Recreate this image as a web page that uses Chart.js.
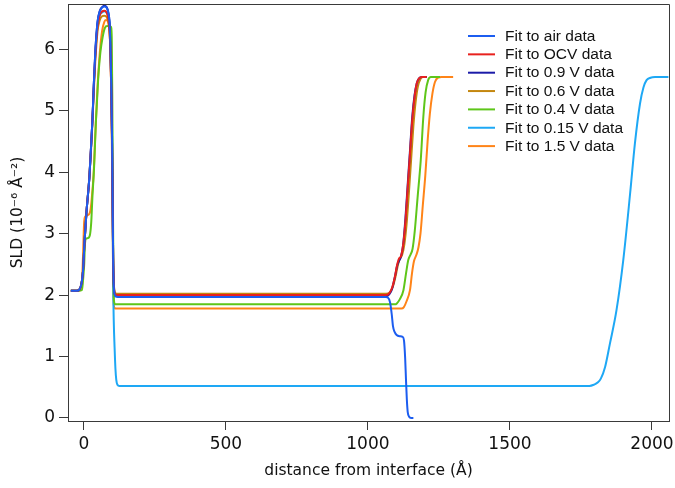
<!DOCTYPE html>
<html><head><meta charset="utf-8">
<script src="https://cdn.jsdelivr.net/npm/chart.js@4.4.1/dist/chart.umd.min.js"></script>
<style>html,body{margin:0;padding:0;background:#fff}#wrap{width:675px;height:488px}</style>
</head><body><div id="wrap"><canvas id="c" width="675" height="488"></canvas></div>
<script>
// ---- tick labels ----
const xTicks = [0, 500, 1000, 1500, 2000];
const yTicks = [0, 1, 2, 3, 4, 5, 6];

// ---- series (distance in Å, SLD in 1e-6 Å^-2) ----
const airX = [-46,-25,-16,-8,-3,2,9,19,25,30,35,40,48,56,64,72,80,86,90,93,96,99,101,103,106,111,120,1062,1070,1078,1084,1088,1094,1101,1112,1122,1127,1131,1134,1137,1140,1145,1152,1160];
const airY = [2.07,2.07,2.09,2.2,2.4,2.85,3.35,3.9,4.4,4.85,5.45,5.95,6.45,6.62,6.68,6.7,6.68,6.6,6.45,6.1,5.5,4.6,3.6,2.6,2.08,1.98,1.97,1.97,1.96,1.88,1.68,1.5,1.4,1.35,1.33,1.32,1.26,0.98,0.62,0.3,0.1,0.02,0.0,0.0];

const ocvX = [-46,-25,-16,-8,-3,2,9,19,25,30,35,40,48,56,64,72,80,86,90,93,96,99,101,103,106,111,120,1062,1075,1085,1095,1103,1110,1116,1124,1132,1140,1148,1156,1164,1172,1180,1190,1207];
const ocvY = [2.07,2.07,2.09,2.2,2.4,2.85,3.35,3.9,4.4,4.85,5.4,5.9,6.38,6.56,6.62,6.63,6.6,6.5,6.35,6.0,5.4,4.5,3.5,2.6,2.12,2.01,2.0,2.0,2.03,2.12,2.3,2.5,2.6,2.63,2.82,3.2,3.75,4.3,4.85,5.22,5.45,5.53,5.55,5.55];

const v09X = [-46,-25,-16,-8,-3,2,9,19,25,30,35,40,48,56,64,72,80,86,90,93,96,99,101,103,106,111,120,1062,1075,1085,1095,1103,1110,1116,1124,1132,1140,1148,1156,1164,1172,1180,1190,1207];
const v09Y = [2.07,2.07,2.09,2.2,2.4,2.85,3.35,3.9,4.4,4.85,5.45,5.95,6.45,6.63,6.69,6.71,6.69,6.6,6.45,6.1,5.5,4.6,3.6,2.6,2.1,1.99,1.98,1.98,2.01,2.1,2.3,2.48,2.56,2.62,2.82,3.25,3.8,4.35,4.9,5.25,5.45,5.53,5.55,5.55];

const v06X = [-46,-25,-16,-8,-3,2,9,19,25,30,35,40,48,56,64,72,80,86,90,93,96,99,101,103,106,111,120,1064,1078,1088,1098,1106,1113,1120,1128,1136,1144,1152,1160,1168,1176,1185,1195,1208];
const v06Y = [2.07,2.07,2.09,2.2,2.4,2.85,3.35,3.9,4.35,4.8,5.35,5.8,6.3,6.48,6.54,6.55,6.53,6.45,6.3,6.0,5.4,4.5,3.5,2.6,2.14,2.03,2.02,2.02,2.05,2.14,2.32,2.5,2.6,2.65,2.82,3.15,3.65,4.2,4.75,5.15,5.4,5.52,5.55,5.55];

const v04X = [-46,-20,-7,-2,1,4,8,16,22,26,30,36,42,50,58,66,74,82,95,98,100,102,104,106,110,1095,1101,1112,1125,1134,1142,1150,1157,1165,1175,1186,1195,1203,1212,1222,1254];
const v04Y = [2.07,2.07,2.08,2.3,2.5,2.85,2.92,2.93,3.0,3.2,3.6,4.1,4.8,5.5,5.95,6.2,6.35,6.38,6.37,6.2,5.2,3.6,2.3,1.9,1.85,1.85,1.86,1.93,2.08,2.35,2.57,2.66,2.75,3.05,3.6,4.2,4.9,5.3,5.5,5.55,5.55];

const v015X = [-46,-25,-16,-8,-3,2,9,19,25,30,35,40,48,56,64,72,80,86,90,94,97,99,101,103,105,108,111,114,118,125,1780,1795,1810,1820,1835,1852,1875,1899,1923,1940,1958,1970,1981,1995,2011,2058];
const v015Y = [2.07,2.07,2.09,2.2,2.4,2.85,3.35,3.9,4.4,4.85,5.4,5.9,6.4,6.56,6.6,6.62,6.6,6.55,6.45,6.2,5.6,4.8,3.6,2.2,1.6,1.15,0.8,0.62,0.54,0.52,0.52,0.54,0.58,0.64,0.83,1.21,1.75,2.57,3.65,4.47,5.12,5.38,5.5,5.54,5.55,5.55];

const v15X = [-46,-20,-10,-5,-2,1,5,12,20,25,29,34,40,48,56,64,72,78,85,90,94,97,99,101,103,105,108,113,1118,1126,1136,1148,1155,1162,1171,1178,1185,1193,1202,1210,1218,1227,1236,1247,1259,1300];
const v15Y = [2.07,2.07,2.1,2.4,2.8,3.2,3.28,3.3,3.33,3.45,3.65,3.95,4.6,5.4,5.95,6.3,6.45,6.48,6.45,6.3,5.9,5.1,4.2,3.2,2.3,1.85,1.79,1.78,1.78,1.8,1.9,2.08,2.35,2.55,2.66,2.78,3.0,3.45,3.95,4.5,4.95,5.28,5.47,5.54,5.55,5.55];

const seriesNames = ['Fit to air data','Fit to OCV data','Fit to 0.9 V data','Fit to 0.6 V data','Fit to 0.4 V data','Fit to 0.15 V data','Fit to 1.5 V data'];
const seriesColors = ['#1c5df0','#e8211e','#1b1ba8','#c4870f','#5ec61a','#1ea8f5','#ff8418'];
const seriesX = [airX, ocvX, v09X, v06X, v04X, v015X, v15X];
const seriesY = [airY, ocvY, v09Y, v06Y, v04Y, v015Y, v15Y];

const datasets = seriesNames.map((name, i) => ({
  label: name,
  data: seriesX[i].map((x, j) => ({x: x, y: seriesY[i][j]})),
  borderColor: seriesColors[i],
  backgroundColor: seriesColors[i],
  borderWidth: 2,
  pointRadius: 0,
  fill: false,
  cubicInterpolationMode: 'monotone'
}));

const axisColor = '#3a3a3a';
const tickFont = {family: '"DejaVu Sans", Verdana, sans-serif', size: 17};
const titleFont = {family: '"DejaVu Sans", Verdana, sans-serif', size: 15.5};

const framePlugin = {
  id: 'frame',
  afterDraw(chart) {
    const a = chart.chartArea, c = chart.ctx;
    c.save();
    c.strokeStyle = axisColor; c.lineWidth = 1;
    c.beginPath();
    c.moveTo(Math.round(a.left) + 0.5, Math.round(a.top) + 0.5);
    c.lineTo(Math.round(a.right) + 0.5, Math.round(a.top) + 0.5);
    c.lineTo(Math.round(a.right) + 0.5, Math.round(a.bottom) + 0.5);
    c.stroke();
    c.restore();
  }
};

const legendPlugin = {
  id: 'insideLegend',
  afterDraw(chart) {
    const c = chart.ctx;
    c.save();
    c.font = '15.5px "Liberation Sans", Arial, sans-serif';
    c.textBaseline = 'middle';
    c.fillStyle = '#111';
    chart.data.datasets.forEach((ds, i) => {
      const y = 36 + i * 18.35;
      c.strokeStyle = ds.borderColor; c.lineWidth = 2;
      c.beginPath(); c.moveTo(468, y); c.lineTo(495, y); c.stroke();
      c.fillText(ds.label, 505, y + 0.5);
    });
    c.restore();
  }
};

new Chart(document.getElementById('c'), {
  type: 'line',
  data: {datasets},
  options: {
    responsive: false,
    animation: false,
    layout: {padding: {top: 4, right: 6, left: 0, bottom: 0}},
    plugins: {legend: {display: false}, tooltip: {enabled: false}},
    scales: {
      x: {
        type: 'linear', min: -56, max: 2060,
        afterBuildTicks: s => { s.ticks = xTicks.map(v => ({value: v})); },
        afterFit: s => { s.height = 67; s.paddingLeft = 0; s.paddingRight = 0; },
        ticks: {font: tickFont, color: '#111', padding: 4, maxRotation: 0, autoSkip: false, callback: v => String(v)},
        grid: {drawOnChartArea: false, drawTicks: true, tickLength: 9, color: axisColor},
        border: {display: true, color: axisColor, width: 1},
        title: {display: true, text: 'distance from interface (Å)', font: titleFont, color: '#111', padding: {top: 0, bottom: 8}}
      },
      y: {
        type: 'linear', min: -0.05, max: 6.74,
        afterBuildTicks: s => { s.ticks = yTicks.map(v => ({value: v})); },
        afterFit: s => { s.width = 68; s.paddingTop = 0; s.paddingBottom = 0; },
        ticks: {font: tickFont, color: '#111', padding: 4, autoSkip: false, callback: v => String(v)},
        grid: {drawOnChartArea: false, drawTicks: true, tickLength: 9, color: axisColor},
        border: {display: true, color: axisColor, width: 1},
        title: {display: true, text: 'SLD (10⁻⁶ Å⁻²)', font: titleFont, color: '#111', padding: {top: 9, bottom: 0}}
      }
    }
  },
  plugins: [framePlugin, legendPlugin]
});
</script></body></html>
